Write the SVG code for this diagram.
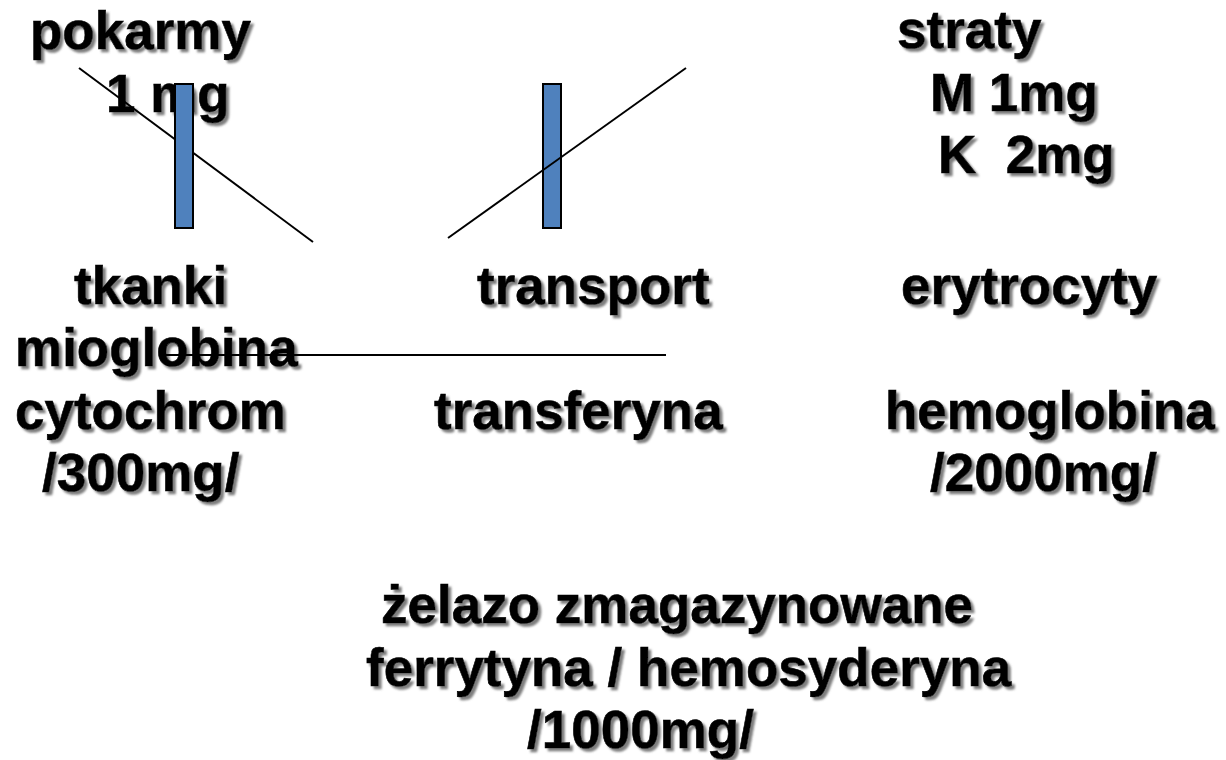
<svg xmlns="http://www.w3.org/2000/svg" width="1226" height="760" viewBox="0 0 1226 760">
<defs>
<filter id="sh" x="-10%" y="-20%" width="130%" height="150%">
<feDropShadow dx="3" dy="3" stdDeviation="1.3" flood-color="#707070" flood-opacity="0.9"/>
</filter>
<style>
text{font-family:"Liberation Sans",Arial,sans-serif;font-weight:bold;font-size:53px;fill:#000;stroke:#000;stroke-width:0.6;filter:url(#sh)}
.ln{stroke:#000;stroke-width:2;fill:none}
.blk{fill:#4f81bd;stroke:#000;stroke-width:2}
</style>
</defs>
<rect width="1226" height="760" fill="#fff"/>
<g id="pokarmy">
<text x="30" y="49">pokarmy</text>
<text x="106" y="112">1 mg</text>
</g>
<g id="straty">
<text x="897" y="48">straty</text>
<text x="930" y="111">M 1mg</text>
<text x="938" y="173" xml:space="preserve">K  2mg</text>
</g>
<g id="tkanki">
<text x="74" y="304">tkanki</text>
<text x="15" y="366">mioglobina</text>
<text x="15" y="429">cytochrom</text>
<text x="42" y="491">/300mg/</text>
</g>
<g id="transport">
<text x="477" y="304">transport</text>
<text x="434" y="429">transferyna</text>
</g>
<g id="erytrocyty">
<text x="901" y="304">erytrocyty</text>
<text x="885" y="429">hemoglobina</text>
<text x="930" y="491">/2000mg/</text>
</g>
<g id="zmagazynowane">
<text x="381" y="623">żelazo zmagazynowane</text>
<text x="366" y="686">ferrytyna / hemosyderyna</text>
<text x="527" y="748">/1000mg/</text>
</g>
<g id="connectors">
<line class="ln" x1="79" y1="68" x2="313" y2="242"/>
<rect class="blk" x="175" y="84" width="18" height="144"/>
<rect class="blk" x="543" y="84" width="18" height="144"/>
<line class="ln" x1="448" y1="238" x2="686" y2="68"/>
<line class="ln" x1="160" y1="355" x2="666" y2="355"/>
</g>
</svg>
